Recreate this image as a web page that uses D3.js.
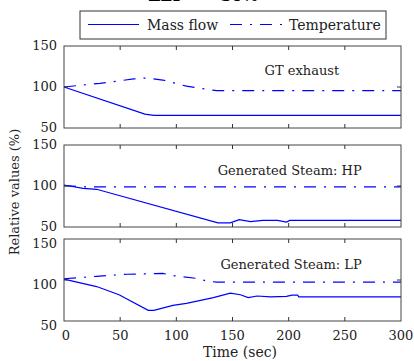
<!DOCTYPE html>
<html>
<head>
<meta charset="utf-8">
<script src="https://cdn.jsdelivr.net/npm/d3@7"></script>
<style>
  body { margin: 0; background: #fff; }
  text { font-family: "DejaVu Serif", serif; fill: #222; }
  .frame { fill: none; stroke: #444; stroke-width: 1; }
  .tick { stroke: #333; stroke-width: 1; }
  .line { fill: none; stroke: #0000ff; stroke-width: 1.2; }
</style>
</head>
<body>
<div class="chart"></div>
<script>
// series, one pair of arrays per panel (time in sec, value in %)
var gtTime      = [0, 72, 80, 300];
var gtMass      = [100, 67, 65.5, 65.5];
var gtTempTime  = [0, 32, 62, 72, 88, 109, 121, 136, 300];
var gtTemp      = [100, 104.5, 109.8, 111, 108.5, 101, 98.4, 95.5, 95.5];

var hpTime      = [0, 5, 17, 29, 137, 148, 156, 166, 177, 190, 198, 201, 300];
var hpMass      = [101, 100, 97, 96, 55, 55, 59, 56.5, 58, 58, 56, 58, 58];
var hpTempTime  = [0, 15, 300];
var hpTemp      = [100.5, 99, 99];

var lpTime      = [0, 29, 49, 75, 80, 97, 109, 133, 148, 157, 164, 172, 184, 198, 203, 208, 209, 300];
var lpMass      = [101, 92, 82, 63, 63, 69, 71.5, 78.5, 84, 82, 78.5, 80.5, 79.5, 80, 81.5, 81.5, 79.5, 79.5];
var lpTempTime  = [0, 29, 56, 88, 99, 121, 127, 136, 300];
var lpTemp      = [101.5, 104.5, 107, 108, 105, 101.5, 98.5, 97.5, 97.5];

var panelNames  = ["GT exhaust", "Generated Steam: HP", "Generated Steam: LP"];
var xTicks      = [0, 50, 100, 150, 200, 250, 300];
var yTicks      = [50, 100, 150];
var legendNames = ["Mass flow", "Temperature"];

var width = 414, height = 361;
var left = 64, right = 401;
var panelTop = [46, 145, 239], panelH = 82;
var labelShift = [4, 4, 9];
var dashDot = "12,8,2,8";

var x = d3.scaleLinear().domain([0, 300]).range([left, right]);

var svg = d3.select(".chart").append("svg")
            .attr("width", width)
            .attr("height", height);

// title, mostly above the picture's top edge as in the source
svg.append("text")
   .attr("x", 203).attr("y", 1)
   .attr("text-anchor", "middle")
   .style("font-size", "16px").style("font-weight", "bold")
   .style("fill", "#000")
   .text("ΔLT = −30%");

var panels = [
  { mass: [gtTime, gtMass], temp: [gtTempTime, gtTemp], label: [245, 114.5] },
  { mass: [hpTime, hpMass], temp: [hpTempTime, hpTemp], label: [265, 113.5] },
  { mass: [lpTime, lpMass], temp: [lpTempTime, lpTemp], label: [265, 113] }
];

function toPoints(t, v) {
  return t.map(function(d, i) { return [d, v[i]]; });
}

panels.forEach(function(p, i) {
  var top = panelTop[i];
  var y = d3.scaleLinear().domain([50, 150]).range([top + panelH, top]);

  var line = d3.line()
               .x(function(d) { return x(d[0]); })
               .y(function(d) { return y(d[1]); });

  var g = svg.append("g");

  g.append("path")
   .datum(toPoints(p.temp[0], p.temp[1]))
   .attr("class", "line")
   .attr("stroke-dasharray", dashDot)
   .attr("d", line);

  g.append("path")
   .datum(toPoints(p.mass[0], p.mass[1]))
   .attr("class", "line")
   .attr("d", line);

  g.append("rect")
   .attr("class", "frame")
   .attr("x", left).attr("y", top)
   .attr("width", right - left).attr("height", panelH);

  // inside ticks, top and bottom
  xTicks.slice(1, -1).forEach(function(t) {
    g.append("line").attr("class", "tick")
     .attr("x1", x(t)).attr("x2", x(t))
     .attr("y1", top + panelH).attr("y2", top + panelH - 4);
    g.append("line").attr("class", "tick")
     .attr("x1", x(t)).attr("x2", x(t))
     .attr("y1", top).attr("y2", top + 4);
  });
  g.append("line").attr("class", "tick")
   .attr("x1", left).attr("x2", left + 4)
   .attr("y1", y(100)).attr("y2", y(100));
  g.append("line").attr("class", "tick")
   .attr("x1", right).attr("x2", right - 4)
   .attr("y1", y(100)).attr("y2", y(100));

  g.selectAll(".ylab")
   .data(yTicks)
   .enter().append("text")
   .attr("x", 57)
   .attr("y", function(d) { return y(d) + labelShift[i]; })
   .attr("text-anchor", "end")
   .style("font-size", "13px")
   .text(function(d) { return d; });

  g.append("text")
   .attr("x", x(p.label[0]))
   .attr("y", y(p.label[1]))
   .attr("text-anchor", "end")
   .style("font-size", "13px")
   .text(panelNames[i]);
});

// bottom axis labels
svg.selectAll(".xlab")
   .data(xTicks)
   .enter().append("text")
   .attr("x", function(d) { return x(d) + (d === 0 ? 2 : 0); })
   .attr("y", 340)
   .attr("text-anchor", "middle")
   .style("font-size", "13px")
   .text(function(d) { return d; });

svg.append("text")
   .attr("x", 240).attr("y", 357)
   .attr("text-anchor", "middle")
   .style("font-size", "14px")
   .text("Time (sec)");

svg.append("text")
   .attr("transform", "translate(19,192) rotate(-90)")
   .attr("text-anchor", "middle")
   .style("font-size", "13px")
   .text("Relative values (%)");

// legend
var lg = svg.append("g");
lg.append("rect")
  .attr("x", 80).attr("y", 11)
  .attr("width", 306).attr("height", 28)
  .attr("fill", "#fff").attr("stroke", "#333").attr("stroke-width", 1);
lg.append("line").attr("class", "line")
  .attr("x1", 88).attr("x2", 139).attr("y1", 24.5).attr("y2", 24.5);
lg.append("line").attr("class", "line")
  .attr("stroke-dasharray", dashDot)
  .attr("x1", 230).attr("x2", 285).attr("y1", 24.5).attr("y2", 24.5);
lg.append("text").attr("x", 147).attr("y", 30)
  .style("font-size", "14px").text(legendNames[0]);
lg.append("text").attr("x", 289).attr("y", 30)
  .style("font-size", "14px").text(legendNames[1]);
</script>
</body>
</html>
